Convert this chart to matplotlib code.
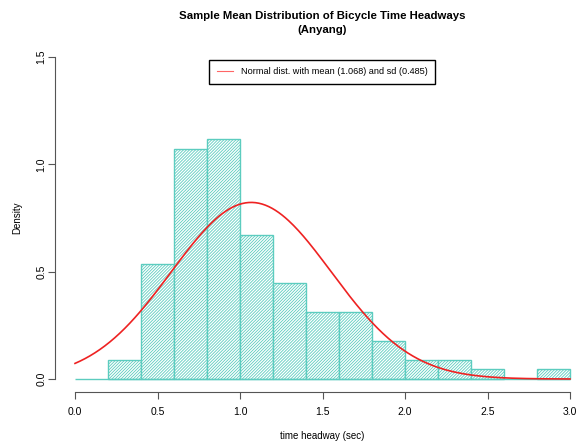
import numpy as np
import matplotlib.pyplot as plt

plt.rcParams['font.family'] = ['Liberation Sans', 'DejaVu Sans']
plt.rcParams['hatch.linewidth'] = 0.6

# histogram bins (width 0.2) and counts
bin_edges = [0.2, 0.4, 0.6, 0.8, 1.0, 1.2, 1.4, 1.6, 1.8, 2.0, 2.2, 2.4, 2.6, 2.8, 3.0]
counts = [2, 12, 24, 25, 15, 10, 7, 7, 4, 2, 2, 1, 0, 1]
mu = 1.068
sd = 0.485

bar_col = '#5cccbf'

n = sum(counts)
width = 0.2
dens = [c / (n * width) for c in counts]

fig = plt.figure(figsize=(5.83, 4.41), dpi=100)
ax = fig.add_axes([0.0947, 0.1113, 0.917, 0.7887])

ax.hlines(0, 0, 3, color=bar_col, lw=1)
for left, h in zip(bin_edges[:-1], dens):
    if h > 0:
        ax.bar(left, h, width=width, align='edge', facecolor='white',
               edgecolor=bar_col, hatch='/' * 11, lw=1)

x = np.linspace(0, 3, 300)
y = np.exp(-0.5 * ((x - mu) / sd) ** 2) / (sd * np.sqrt(2 * np.pi))
ax.plot(x, y, color='#ee2222', lw=1.2)

ax.set_xlim(-0.12, 3.12)
ax.set_ylim(-0.06, 1.56)
for s in ['top', 'right']:
    ax.spines[s].set_visible(False)
ax.spines['bottom'].set_bounds(0, 3)
ax.spines['left'].set_bounds(0, 1.5)
ax.spines['bottom'].set_color('#555555')
ax.spines['left'].set_color('#555555')
ax.set_xticks([0, 0.5, 1.0, 1.5, 2.0, 2.5, 3.0])
ax.set_xticklabels(['0.0', '0.5', '1.0', '1.5', '2.0', '2.5', '3.0'])
ax.set_yticks([0, 0.5, 1.0, 1.5])
ax.set_yticklabels(['0.0', '0.5', '1.0', '1.5'], rotation=90, va='center')
ax.tick_params(labelsize=7.5, length=5, color='#555555')
ax.tick_params(axis='x', pad=6)
ax.tick_params(axis='y', pad=1.5)

ax.set_xlabel('time headway (sec)', fontsize=7)
ax.xaxis.set_label_coords(0.5, -0.1268)
ax.xaxis.label.set_va('center')
ax.set_ylabel('Density', fontsize=7)
ax.yaxis.set_label_coords(-0.0716, 0.5)
ax.yaxis.label.set_va('center')
fig.suptitle('Sample Mean Distribution of Bicycle Time Headways\n(Anyang)',
             fontsize=8.2, fontweight='bold', x=0.553, y=0.975, linespacing=1.5)

ax.legend([plt.Line2D([], [], color='#ff6666', lw=0.8)],
          ['Normal dist. with mean (1.068) and sd (0.485)'],
          loc='upper center', bbox_to_anchor=(0.499, 0.954), fontsize=6.6,
          fancybox=False, edgecolor='black', framealpha=1, handlelength=1.8,
          borderpad=0.8, borderaxespad=0)

fig.savefig('out.png', dpi=100)
